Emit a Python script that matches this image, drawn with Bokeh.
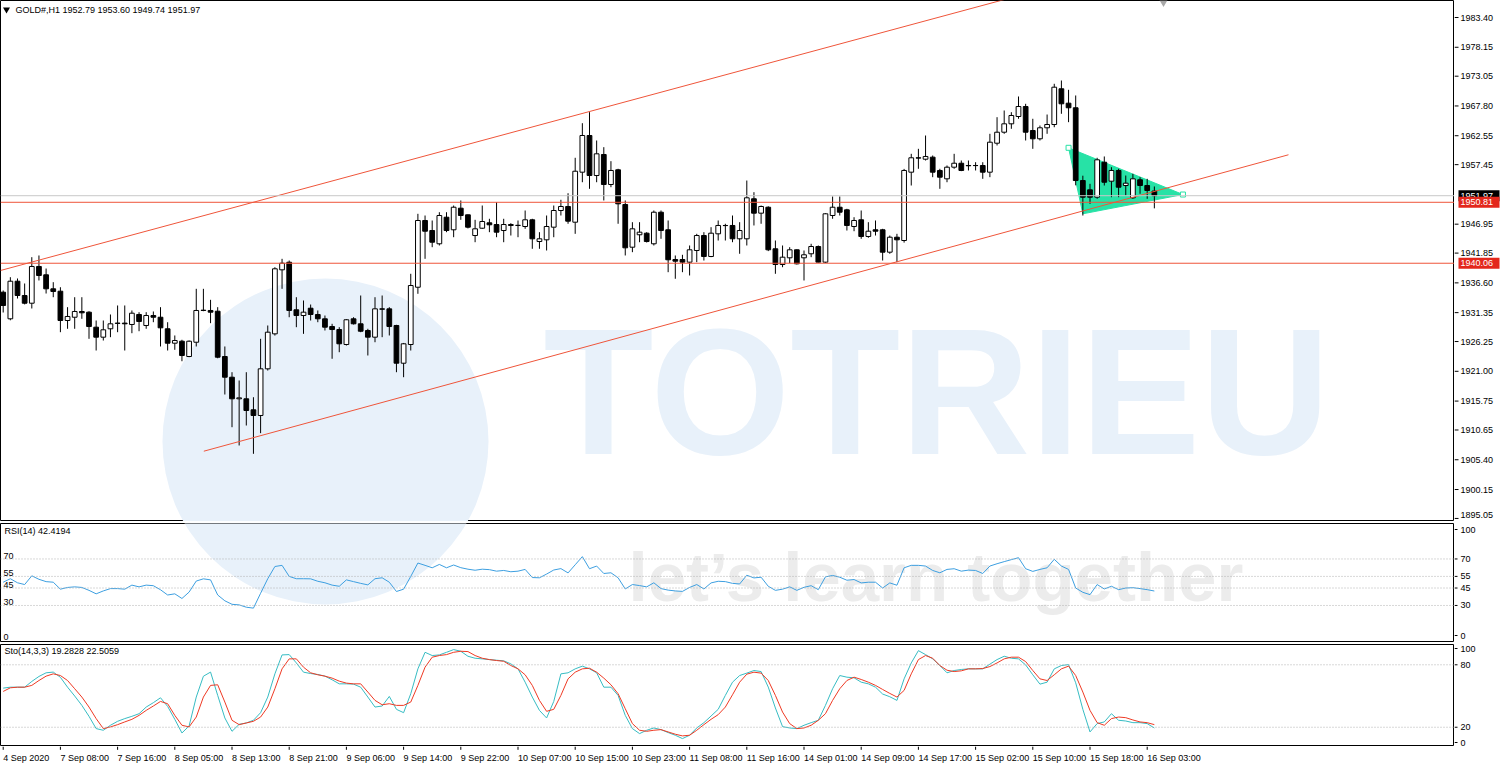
from bokeh.plotting import figure
from bokeh.layouts import column, row
from bokeh.models import Range1d, Span, Label
from bokeh.core.properties import value
from bokeh.embed import file_html
from bokeh.resources import INLINE

# ---------------- data ----------------
symbol_title = "GOLD#,H1  1952.79 1953.60 1949.74 1951.97"
rsi_title = "RSI(14) 42.4194"
sto_title = "Sto(14,3,3) 19.2828 22.5059"
watermark_name = "TOTRIEU"
watermark_slogan = "let\u2019s learn together"

opens = [
    1934.95, 1930.26, 1936.89, 1934.37, 1933.01, 1939.49, 1938.02, 1935.55, 1935.13, 1929.96,
    1930.54, 1931.55, 1931.43, 1928.78, 1927.02, 1928.50, 1929.45, 1929.50, 1929.26, 1931.02,
    1929.08, 1930.84, 1930.54, 1928.50, 1925.96, 1926.31, 1923.61, 1926.13, 1931.73, 1931.73,
    1931.60, 1923.61, 1919.96, 1916.15, 1916.15, 1914.21, 1913.21, 1921.44, 1927.61, 1938.90,
    1940.24, 1931.85, 1930.84, 1932.13, 1931.02, 1930.26, 1928.90, 1928.37, 1925.73, 1930.26,
    1929.38, 1928.20, 1927.02, 1932.02, 1932.02, 1929.08, 1922.43, 1925.73, 1935.83, 1947.60,
    1945.83, 1943.49, 1948.18, 1945.96, 1949.77, 1948.60, 1944.95, 1946.24, 1947.19, 1946.89,
    1945.83, 1946.89, 1946.72, 1946.54, 1947.72, 1943.89, 1944.19, 1946.42, 1949.36, 1950.07,
    1947.30, 1956.12, 1962.59, 1955.53, 1959.24, 1953.95, 1956.54, 1950.42, 1942.89, 1945.08,
    1945.36, 1943.49, 1949.06, 1945.96, 1940.72, 1940.72, 1940.25, 1942.31, 1944.95, 1941.25,
    1945.25, 1946.72, 1946.72, 1944.37, 1944.37, 1951.43, 1948.89, 1949.94, 1942.61, 1939.84,
    1941.02, 1942.43, 1941.02, 1941.73, 1943.01, 1940.25, 1948.48, 1949.94, 1949.48, 1946.54,
    1947.72, 1944.78, 1945.96, 1945.96, 1942.01, 1944.65, 1944.07, 1956.12, 1958.66, 1958.41,
    1958.77, 1956.42, 1954.95, 1957.00, 1957.70, 1957.30, 1957.30, 1957.30, 1956.12, 1961.23,
    1963.17, 1964.65, 1965.94, 1967.70, 1963.47, 1962.01, 1963.95, 1964.53, 1970.83, 1968.29,
    1967.48, 1954.65, 1953.01, 1951.71, 1957.88, 1954.53, 1956.42, 1953.77, 1951.60, 1954.78,
    1953.77, 1952.79]
highs = [
    1935.25, 1937.60, 1937.37, 1936.49, 1941.13, 1941.43, 1939.13, 1936.72, 1935.83, 1932.31,
    1934.07, 1934.07, 1931.60, 1929.96, 1929.96, 1931.02, 1932.61, 1932.61, 1931.73, 1931.43,
    1931.43, 1931.55, 1932.31, 1929.66, 1927.32, 1926.56, 1926.43, 1935.55, 1935.55, 1933.61,
    1932.31, 1925.38, 1920.84, 1919.38, 1920.84, 1916.43, 1926.73, 1929.08, 1939.36, 1940.84,
    1940.54, 1934.07, 1933.49, 1932.78, 1931.73, 1930.84, 1929.38, 1928.78, 1930.20, 1930.54,
    1934.37, 1928.50, 1934.07, 1934.37, 1932.31, 1929.20, 1926.00, 1938.20, 1948.78, 1948.48,
    1947.60, 1949.06, 1949.06, 1950.24, 1951.13, 1948.65, 1947.72, 1950.24, 1947.90, 1950.83,
    1947.90, 1947.13, 1947.60, 1949.36, 1947.90, 1945.54, 1948.48, 1950.24, 1951.25, 1952.41,
    1958.66, 1964.76, 1966.70, 1961.71, 1960.53, 1958.06, 1956.72, 1951.13, 1947.30, 1947.30,
    1945.54, 1949.36, 1949.36, 1947.60, 1941.43, 1941.55, 1943.19, 1945.25, 1945.54, 1946.42,
    1947.60, 1947.02, 1948.48, 1947.30, 1954.65, 1952.59, 1950.24, 1950.10, 1944.07, 1943.19,
    1942.89, 1942.50, 1942.31, 1943.49, 1943.19, 1948.90, 1951.83, 1951.83, 1949.66, 1948.18,
    1949.36, 1947.30, 1947.60, 1946.13, 1944.95, 1945.25, 1956.70, 1959.36, 1960.24, 1962.59,
    1959.06, 1956.72, 1957.30, 1959.36, 1958.18, 1958.18, 1957.88, 1957.88, 1962.89, 1965.82,
    1967.00, 1966.70, 1969.47, 1968.18, 1965.54, 1964.35, 1966.29, 1971.71, 1972.29, 1970.65,
    1969.65, 1955.50, 1954.07, 1958.66, 1958.89, 1957.00, 1956.72, 1955.53, 1955.83, 1955.24,
    1954.95, 1953.60]
lows = [
    1931.37, 1930.00, 1933.84, 1932.80, 1932.08, 1937.02, 1934.72, 1934.07, 1927.90, 1928.50,
    1928.50, 1930.26, 1926.73, 1924.67, 1926.43, 1927.02, 1927.90, 1924.67, 1927.72, 1928.07,
    1928.50, 1929.66, 1925.38, 1924.67, 1924.79, 1922.78, 1923.49, 1925.38, 1931.60, 1929.49,
    1923.30, 1916.91, 1911.14, 1907.92, 1911.44, 1906.45, 1910.09, 1921.14, 1927.30, 1935.55,
    1930.54, 1928.78, 1927.61, 1929.96, 1929.66, 1928.20, 1923.21, 1924.37, 1925.55, 1929.26,
    1927.90, 1923.79, 1926.13, 1927.02, 1927.32, 1920.84, 1919.96, 1924.67, 1934.67, 1940.84,
    1942.89, 1943.19, 1945.54, 1944.65, 1947.72, 1946.20, 1943.77, 1946.13, 1945.54, 1944.65,
    1943.77, 1944.95, 1944.65, 1946.13, 1942.61, 1942.61, 1942.31, 1944.65, 1948.48, 1947.02,
    1945.25, 1954.35, 1953.19, 1954.35, 1951.13, 1953.47, 1947.02, 1941.43, 1942.01, 1943.77,
    1943.72, 1943.19, 1944.37, 1938.48, 1937.32, 1938.48, 1937.90, 1940.25, 1940.54, 1941.13,
    1944.07, 1944.07, 1943.77, 1941.73, 1943.19, 1946.72, 1947.02, 1942.20, 1938.20, 1939.36,
    1940.07, 1939.84, 1937.02, 1941.13, 1940.20, 1940.10, 1947.90, 1948.48, 1945.83, 1945.71,
    1944.37, 1944.55, 1944.95, 1940.54, 1941.73, 1940.25, 1943.70, 1953.77, 1956.72, 1958.18,
    1955.24, 1953.19, 1954.35, 1956.72, 1956.30, 1956.42, 1956.42, 1954.95, 1955.24, 1960.83,
    1962.89, 1963.77, 1965.54, 1961.71, 1960.24, 1961.71, 1962.89, 1964.05, 1966.42, 1964.94,
    1953.80, 1948.48, 1950.54, 1951.43, 1953.77, 1951.71, 1951.71, 1952.01, 1951.43, 1952.31,
    1951.43, 1949.74]
closes = [
    1932.61, 1936.89, 1934.37, 1933.01, 1939.49, 1937.90, 1935.55, 1935.08, 1929.96, 1930.67,
    1931.55, 1931.32, 1928.90, 1927.02, 1928.32, 1929.38, 1929.50, 1929.38, 1931.25, 1929.79,
    1930.84, 1930.54, 1928.67, 1925.96, 1926.43, 1923.79, 1926.31, 1931.73, 1931.78, 1931.43,
    1923.49, 1919.96, 1916.15, 1916.32, 1914.09, 1913.21, 1921.44, 1927.90, 1939.08, 1940.07,
    1931.73, 1930.84, 1931.43, 1931.02, 1930.26, 1928.78, 1928.37, 1925.85, 1930.09, 1929.38,
    1928.07, 1927.02, 1932.02, 1931.95, 1928.90, 1922.43, 1925.85, 1936.13, 1947.60, 1945.71,
    1943.77, 1948.48, 1945.83, 1949.94, 1948.48, 1946.42, 1946.13, 1947.42, 1946.84, 1945.54,
    1946.89, 1946.72, 1946.75, 1947.72, 1944.37, 1944.37, 1946.54, 1949.36, 1950.07, 1947.48,
    1956.29, 1962.59, 1955.53, 1959.36, 1953.95, 1956.42, 1950.54, 1942.78, 1946.13, 1945.54,
    1943.89, 1949.06, 1945.83, 1940.67, 1940.42, 1940.25, 1942.43, 1944.95, 1941.25, 1945.36,
    1946.72, 1946.70, 1944.37, 1945.83, 1951.60, 1948.89, 1950.07, 1942.43, 1939.84, 1941.13,
    1942.43, 1939.96, 1941.55, 1943.01, 1940.25, 1948.78, 1949.94, 1949.06, 1946.72, 1947.60,
    1944.78, 1945.71, 1945.71, 1942.01, 1944.65, 1944.19, 1956.42, 1958.66, 1958.60, 1958.89,
    1956.12, 1955.24, 1957.00, 1957.70, 1956.42, 1957.25, 1957.28, 1956.12, 1961.41, 1963.17,
    1964.65, 1966.12, 1967.70, 1963.17, 1962.01, 1963.95, 1964.53, 1971.11, 1968.18, 1967.48,
    1954.65, 1951.71, 1951.71, 1958.30, 1954.35, 1956.42, 1953.47, 1954.18, 1954.95, 1953.77,
    1952.89, 1951.97]

rsi = [
    50, 53, 49.5, 48, 55.5, 52.5, 50.5, 50, 44, 45.5,
    46, 45.5, 43, 40, 42.5, 44.5, 44.5, 44, 47.5, 46,
    47.5, 47, 43.5, 39, 40, 36, 41.5, 51, 52.9, 52,
    39, 34, 31, 30.5, 28.5, 27.7, 40.5, 53, 63.5, 64.5,
    55, 53, 53, 52.9, 50.8, 49.5, 47.5, 46.5, 52, 50.5,
    49, 47.7, 53, 53.8, 50, 42, 44, 55, 66.5, 64.5,
    62.4, 65.3, 62.4, 64.8, 62.5, 61.2, 60.3, 61.2, 60.8, 59.5,
    60.1, 59, 59.5, 61, 54, 53.8, 57, 60.5, 61.7, 58,
    65, 72, 61.6, 63.9, 57.5, 58.1, 53.8, 44.2, 48, 47.1,
    46, 49.5, 44.5, 43.2, 42.5, 42.1, 45.5, 48, 44.2, 49.4,
    50.8, 50.5, 49, 48.5, 56, 53.7, 54.3, 46.5, 43, 44,
    46, 43, 45.6, 47, 43.6, 54.6, 55.8, 54.3, 51.7, 52.3,
    49.4, 50, 50, 45, 49.4, 47.4, 62.4, 64.5, 64.5, 63.9,
    60.1, 58.1, 61, 61.6, 59.5, 60.4, 60.1, 57.5, 63.9, 65.9,
    67.7, 69.4, 71.1, 61.6, 59.3, 61, 62.4, 69.7, 63.9, 61,
    45, 41.3, 39.3, 48, 44.2, 46.5, 43.6, 45, 45.3, 44.5,
    43.6, 42.42]

stoch_main = [
    57.6, 58.5, 58.5, 58.5, 64, 68.8, 72.3, 73, 68, 58.5,
    50, 41, 30.5, 18.7, 17.1, 21.9, 25.7, 28.3, 30.5, 33,
    39.4, 43.6, 48.3, 40, 27.6, 14.5, 21.2, 49, 69, 73,
    50.6, 28.9, 16.1, 22.8, 24.1, 26.7, 34, 49, 71.3, 89.5,
    89.8, 81.8, 72.9, 71.6, 70.7, 69.1, 65.6, 61.7, 61.7, 61.4,
    58.5, 49, 39.4, 40.4, 49.6, 37.2, 34, 52.2, 76.1, 92,
    88.9, 89.5, 92, 94.6, 93, 88.2, 86.3, 85.7, 85, 84.4,
    83.8, 80.9, 76.1, 63.3, 49, 36.2, 28.9, 44.8, 71.3, 72.3,
    76.1, 78.7, 76.1, 72.3, 58.5, 58.5, 50.6, 31.4, 18.7, 13.9,
    17.1, 19.3, 17.7, 14.9, 12.3, 9.1, 12.3, 19.3, 24.4, 30.8,
    37.2, 50.6, 63.3, 69.7, 72, 74.5, 73.5, 58.6, 38.5, 20.6,
    19.3, 18.7, 21.9, 24.4, 26.7, 41, 57, 69.7, 68.1, 67.5,
    63.3, 61.7, 58.5, 51.9, 49.3, 45.8, 66.5, 81.8, 93.6, 89.8,
    85.7, 79.3, 72.3, 74.5, 75.5, 76.1, 76.1, 76.1, 80.6, 85,
    88.2, 86.3, 85.7, 79.9, 70.4, 61.4, 63.3, 76.1, 79.3, 80.2,
    62.7, 37.2, 15.5, 23.5, 25.1, 33, 26.7, 26, 24.4, 24.4,
    23.5, 19.28]
stoch_signal = [
    54.4, 57.9, 58.5, 58.5, 60.2, 64.9, 69.1, 71.3, 69.7, 64.9,
    57, 49, 39.4, 28.3, 18.7, 20.3, 22.5, 25.1, 27.6, 31.4,
    36.2, 40.4, 44.8, 42.6, 31.4, 21.9, 20.3, 29.8, 49, 60.2,
    60.8, 44.2, 26.7, 22.5, 24.1, 25.7, 29.8, 39.4, 57, 76.1,
    85.7, 85.7, 77.7, 72.3, 70.4, 69.1, 67.2, 64.3, 62.4, 61.7,
    61.7, 53.8, 45.8, 41.6, 42.6, 41, 41, 44.2, 60.2, 77.7,
    87.3, 88.9, 89.8, 92, 93, 92.7, 88.9, 86.3, 85, 84.1,
    83.4, 79.3, 76.1, 70.4, 60.2, 45.8, 35.3, 37.2, 50.6, 66.5,
    72.9, 76.1, 76.7, 72.9, 67.2, 60.8, 52.2, 37.8, 23.5, 17.1,
    16.1, 17.1, 17.7, 15.5, 13.3, 11.7, 12.3, 17.1, 22.5, 27.6,
    32.1, 39.4, 51.2, 63.3, 71, 72.9, 72, 64.9, 50.6, 34.6,
    23.5, 18.7, 19.3, 21.9, 26.7, 33, 45.8, 57, 64.9, 68.1,
    65.9, 63.3, 60.2, 56.3, 52.5, 49, 55.4, 71.3, 85, 88.9,
    86.3, 79.3, 74.8, 73.5, 74.2, 76.1, 76.1, 76.4, 78.3, 81.8,
    85.7, 87.3, 87.3, 83.1, 74.5, 66.5, 64.9, 70.4, 76.1, 78.7,
    69.7, 53.8, 36.2, 24.4, 21.9, 28.3, 29.8, 29.2, 27, 25.1,
    24.4, 22.51]

date_labels = ["4 Sep 2020", "7 Sep 08:00", "7 Sep 16:00", "8 Sep 05:00", "8 Sep 13:00",
               "8 Sep 21:00", "9 Sep 06:00", "9 Sep 14:00", "9 Sep 22:00", "10 Sep 07:00",
               "10 Sep 15:00", "10 Sep 23:00", "11 Sep 08:00", "11 Sep 16:00", "14 Sep 01:00",
               "14 Sep 09:00", "14 Sep 17:00", "15 Sep 02:00", "15 Sep 10:00", "15 Sep 18:00",
               "16 Sep 03:00"]
date_label_bars = list(range(0, 161, 8))

price_ticks = [1983.40, 1978.15, 1973.05, 1967.80, 1962.55, 1957.45, 1946.95, 1941.85,
               1936.60, 1931.35, 1926.25, 1921.00, 1915.75, 1910.65, 1905.40, 1900.15, 1895.05]
bid_price = 1951.97
level_prices = [1950.81, 1940.06]
rsi_levels = [70, 55, 45, 30]
sto_levels = [80, 20]

# drawing objects (bar index, price)
upper_channel_bars = [-0.38, 138.5]
upper_channel_prices = [1938.78, 1986.05]
lower_channel_bars = [28.06, 179.76]
lower_channel_prices = [1906.91, 1959.19]
triangle_bars = [149.0, 151.0, 165.0]
triangle_prices = [1960.42, 1948.78, 1952.18]

assert all(len(a) == len(opens) for a in (highs, lows, closes, rsi, stoch_main, stoch_signal))

# ---------------- styling ----------------
FONT = "Liberation Sans"
WM_FONT = "Liberation Sans"
LINE_RED = "#EF553A"
BOX_RED = "#E3271C"
RSI_COL = "#3D9FE0"
K_COL = "#37BCC3"
D_COL = "#EE3A24"
LEVEL_COL = "#B0B0B0"
TRI_COL = "#27E2A6"
WM_BLUE = "#E8F1FA"
WM_GREY = "#ECECEC"

W_PANE, W_AXIS = 1454, 46
H_MAIN, H_RSI, H_STO, H_DATE = 521, 121, 104, 22


# reference-pixel helpers for decorations
def px_x(X):
    return (X - 2.7) / 7.15


def py_main(Y):
    return 1986.40 - 0.17637 * Y


def py_rsi(Y):
    return -1 + (641 - Y) * (101.5 / 118)


def py_sto(Y):
    return 1.5 + (746 - Y) * (98 / 102)


PX_PRICE = 0.17637

xr = Range1d(px_x(0), px_x(W_PANE))


def make(width, height, x_range, y_range, top=0, bottom=0, outline=True):
    f = figure(width=width, height=height, x_range=x_range, y_range=y_range,
               output_backend="svg", toolbar_location=None,
               x_axis_location=None, y_axis_location=None,
               min_border_left=0, min_border_right=0,
               min_border_top=top, min_border_bottom=bottom)
    f.xgrid.visible = False
    f.ygrid.visible = False
    f.outline_line_color = "black" if outline else None
    f.outline_line_width = 1
    f.background_fill_color = "white"
    f.border_fill_color = "white"
    return f


def txt(f, x, y, s, color="black", align="left", baseline="middle", size="9px"):
    f.text(x=[x], y=[y], text=[s], text_font=value(FONT), text_font_size=size,
           text_color=color, text_align=align, text_baseline=baseline)


# ---------------- main pane ----------------
p1 = make(W_PANE, H_MAIN, xr, Range1d(py_main(H_MAIN), py_main(0)))

wm = p1.scatter([px_x(325)], [py_main(441)], size=326, marker="circle",
                fill_color=WM_BLUE, line_color=None)
wm.level = "image"
p1.add_layout(Label(x=px_x(543), y=py_main(391), text=watermark_name, text_font=WM_FONT,
                    text_font_style="bold", text_font_size="180px", text_color=WM_BLUE,
                    text_baseline="middle", level="underlay"))

p1.add_layout(Span(location=bid_price, dimension="width", line_color="#C8C8C8", line_width=1))

p1.patch(triangle_bars, triangle_prices, fill_color=TRI_COL, line_color=TRI_COL, line_width=1)

idx = list(range(len(opens)))
tops = [max(o, c) for o, c in zip(opens, closes)]
bots = [min(o, c) for o, c in zip(opens, closes)]
fills = ["white" if c >= o else "black" for o, c in zip(opens, closes)]
p1.segment(x0=idx, y0=lows, x1=idx, y1=highs, line_color="black", line_width=1)
p1.vbar(x=idx, width=0.66, top=tops, bottom=bots, fill_color=fills, line_color="black", line_width=1)

# channel lines
slope_u = (upper_channel_prices[1] - upper_channel_prices[0]) / (upper_channel_bars[1] - upper_channel_bars[0])
ux_end = px_x(W_PANE)
p1.line([upper_channel_bars[0], ux_end],
        [upper_channel_prices[0], upper_channel_prices[0] + slope_u * (ux_end - upper_channel_bars[0])],
        line_color=LINE_RED, line_width=1)
p1.line(lower_channel_bars, lower_channel_prices, line_color=LINE_RED, line_width=1)
for lp in level_prices:
    p1.add_layout(Span(location=lp, dimension="width", line_color=LINE_RED, line_width=1))

p1.scatter([triangle_bars[0], triangle_bars[2]], [triangle_prices[0], triangle_prices[2]],
           marker="square", size=5, fill_color="white", line_color=TRI_COL)
p1.scatter([px_x(1163)], [py_main(2)], marker="inverted_triangle", size=8,
           fill_color="#A8A8A8", line_color=None)

p1.scatter([px_x(6)], [py_main(9)], marker="inverted_triangle", size=7,
           fill_color="black", line_color=None)
txt(p1, px_x(15), py_main(9), symbol_title)

a1 = make(W_AXIS, H_MAIN, Range1d(0, W_AXIS), p1.y_range, outline=False)
a1.segment(x0=[0] * len(price_ticks), y0=price_ticks, x1=[4] * len(price_ticks), y1=price_ticks,
           line_color="black")
for t in price_ticks[:-1]:
    txt(a1, 6, t, "%.2f" % t)
txt(a1, 6, price_ticks[-1], "%.2f" % price_ticks[-1], baseline="bottom")
bh = 11 * PX_PRICE
a1.quad(left=[4], right=[45], bottom=[bid_price - bh / 2], top=[bid_price + bh / 2],
        fill_color="black", line_color=None)
txt(a1, 6, bid_price, "%.2f" % bid_price, color="white")
for lp in level_prices:
    a1.quad(left=[4], right=[45], bottom=[lp - bh / 2], top=[lp + bh / 2],
            fill_color=BOX_RED, line_color=None)
    txt(a1, 6, lp, "%.2f" % lp, color="white")

# ---------------- RSI pane ----------------
p2 = make(W_PANE, H_RSI, xr, Range1d(-1, 100.5), top=2, bottom=1)
wm2 = p2.scatter([px_x(325)], [py_rsi(441)], size=326, marker="circle",
                 fill_color=WM_BLUE, line_color=None)
wm2.level = "image"
p2.add_layout(Label(x=px_x(628), y=py_rsi(577), text=watermark_slogan, text_font=WM_FONT,
                    text_font_style="bold", text_font_size="69px", text_color=WM_GREY,
                    text_baseline="alphabetic", level="underlay"))
for lv in rsi_levels:
    p2.add_layout(Span(location=lv, dimension="width", line_color=LEVEL_COL, line_width=1,
                       line_dash="1 2"))
p2.line(idx, rsi, line_color=RSI_COL, line_width=1)
txt(p2, px_x(4), py_rsi(530), rsi_title)
for lv in rsi_levels + [0]:
    txt(p2, px_x(3), lv, str(lv), baseline="bottom")

a2 = make(W_AXIS, H_RSI, Range1d(0, W_AXIS), p2.y_range, top=2, bottom=1, outline=False)
rsi_axis_labels = ["100", "70", "55", "45", "30", "0"]
rsi_axis_pos = [py_rsi(529), 70, 55, 45, 30, py_rsi(635)]
for s, yv in zip(rsi_axis_labels, rsi_axis_pos):
    a2.segment(x0=[0], y0=[yv], x1=[3], y1=[yv], line_color="black")
    txt(a2, 6, yv, s)

# ---------------- Stochastic pane ----------------
p3 = make(W_PANE, H_STO, xr, Range1d(1.5, 99.5), top=2, bottom=0)
for lv in sto_levels:
    p3.add_layout(Span(location=lv, dimension="width", line_color=LEVEL_COL, line_width=1,
                       line_dash="1 2"))
p3.line(idx, stoch_main, line_color=K_COL, line_width=1)
p3.line(idx, stoch_signal, line_color=D_COL, line_width=1)
txt(p3, px_x(4), py_sto(650), sto_title)

a3 = make(W_AXIS, H_STO, Range1d(0, W_AXIS), p3.y_range, top=2, bottom=0, outline=False)
sto_axis_labels = ["100", "80", "20", "0"]
sto_axis_pos = [py_sto(648), 80, 20, py_sto(742)]
for s, yv in zip(sto_axis_labels, sto_axis_pos):
    a3.segment(x0=[0], y0=[yv], x1=[3], y1=[yv], line_color="black")
    txt(a3, 6, yv, s)

# ---------------- date axis ----------------
p4 = make(W_PANE, H_DATE, xr, Range1d(0, 1), outline=False)
p4.segment(x0=date_label_bars, y0=[1] * len(date_label_bars), x1=date_label_bars,
           y1=[0.85] * len(date_label_bars), line_color="black")
p4.text(x=date_label_bars, y=[0.47] * len(date_label_bars), text=date_labels,
        text_font=value(FONT), text_font_size="9px", text_color="black",
        text_align="left", text_baseline="middle")

layout = column(row(p1, a1), row(p2, a2), row(p3, a3), p4)
layout.styles = {"position": "absolute", "left": "0px", "top": "0px"}

open("out.html", "w").write(file_html(layout, INLINE))
